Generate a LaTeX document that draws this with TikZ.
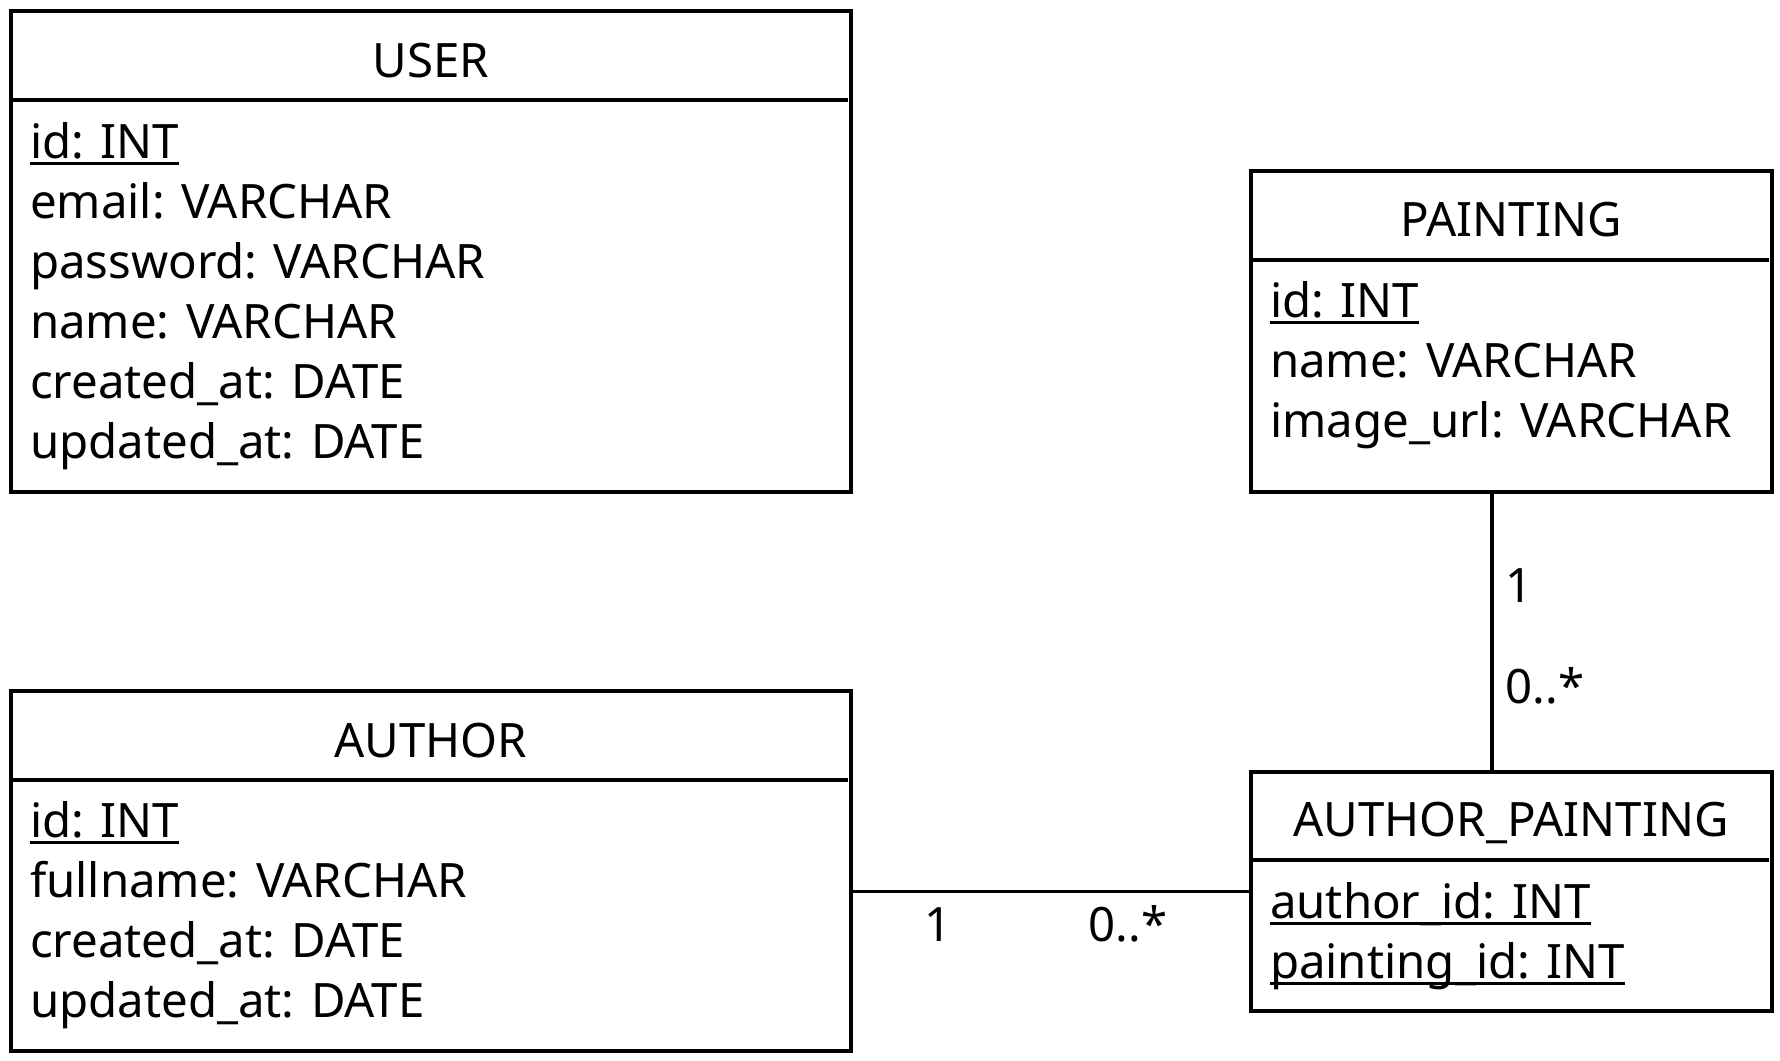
\documentclass[tikz,border=0pt]{standalone}
\usepackage{fontspec}
\setmainfont{Noto Sans}
\usepackage{tikz}
\usetikzlibrary{positioning}

\newcommand{\erfont}{\fontsize{23.7pt}{30pt}\selectfont}
\newsavebox{\keybox}
\newcommand{\pkey}[1]{\sbox{\keybox}{#1}\rlap{\rule[-3.5pt]{\wd\keybox}{1.5pt}}\usebox{\keybox}}

\begin{document}
\begin{tikzpicture}[x=0.5pt, y=-0.5pt, line width=1.6pt]
    % Define styles
    \tikzstyle{entity} = [rectangle, draw, anchor=north west, inner sep=0pt, outer sep=0pt]
    \tikzstyle{title} = [anchor=base, inner sep=0pt, font=\erfont]
    \tikzstyle{field} = [inner sep=0pt, outer sep=0pt, text height=17pt, text depth=6pt, font=\erfont]
    \tikzstyle{mult} = [inner sep=0pt, font=\erfont]
    \tikzstyle{link} = [line width=1.6pt]

    \useasboundingbox (0,0) rectangle (1780,1060);

    % Draw entity boxes
    \node[entity, minimum width=420pt, minimum height=240.5pt] (user) at (11,11) {};
    \node[entity, minimum width=260.5pt, minimum height=160.5pt] (painting) at (1251,171) {};
    \node[entity, minimum width=420pt, minimum height=180pt] (author) at (11,691) {};
    \node[entity, minimum width=260.5pt, minimum height=119.5pt] (ap) at (1251,772) {};

    % Header separators
    \draw (11,100) -- (848,100);
    \draw (1251,260) -- (1769,260);
    \draw (11,780) -- (848,780);
    \draw (1251,860) -- (1769,860);

    % Titles
    \node[title] (user-title) at (431,77) {USER};
    \node[title] (painting-title) at (1511,236) {PAINTING};
    \node[title] (author-title) at (431,757) {AUTHOR};
    \node[title] (ap-title) at (1511,836) {AUTHOR\_PAINTING};

    % USER fields
    \node[field, anchor=base west] (user-id) at (30,158) {\pkey{id: INT}};
    \node[field, below=7pt of user-id.south west, anchor=north west] (user-email) {email: VARCHAR};
    \node[field, below=7pt of user-email.south west, anchor=north west] (user-pass) {password: VARCHAR};
    \node[field, below=7pt of user-pass.south west, anchor=north west] (user-name) {name: VARCHAR};
    \node[field, below=7pt of user-name.south west, anchor=north west] (user-created) {created\_at: DATE};
    \node[field, below=7pt of user-created.south west, anchor=north west] (user-updated) {updated\_at: DATE};

    % PAINTING fields
    \node[field, anchor=base west] (painting-id) at (1270,317) {\pkey{id: INT}};
    \node[field, below=7pt of painting-id.south west, anchor=north west] (painting-name) {name: VARCHAR};
    \node[field, below=7pt of painting-name.south west, anchor=north west] (painting-url) {image\_url: VARCHAR};

    % AUTHOR fields
    \node[field, anchor=base west] (author-id) at (30,837) {\pkey{id: INT}};
    \node[field, below=7pt of author-id.south west, anchor=north west] (author-fullname) {fullname: VARCHAR};
    \node[field, below=7pt of author-fullname.south west, anchor=north west] (author-created) {created\_at: DATE};
    \node[field, below=7pt of author-created.south west, anchor=north west] (author-updated) {updated\_at: DATE};

    % AUTHOR_PAINTING fields
    \node[field, anchor=base west] (ap-author) at (1270,918) {\pkey{author\_id: INT}};
    \node[field, below=7pt of ap-author.south west, anchor=north west] (ap-painting) {\pkey{painting\_id: INT}};

    % Draw relations
    \coordinate (vx) at (1492,0);
    \draw[link] (painting.south -| vx) -- node[mult, pos=0.393, anchor=base west, xshift=6pt] (m-p1) {1}
        node[mult, pos=0.754, anchor=base west, xshift=6pt] (m-p2) {0..*} (ap.north -| vx);
    \draw[link] (author.east |- ap.west) -- node[mult, pos=0.2175, anchor=base, yshift=-25pt] (m-a1) {1}
        node[mult, pos=0.6925, anchor=base, yshift=-25pt] (m-a2) {0..*} (ap.west);
\end{tikzpicture}
\end{document}
